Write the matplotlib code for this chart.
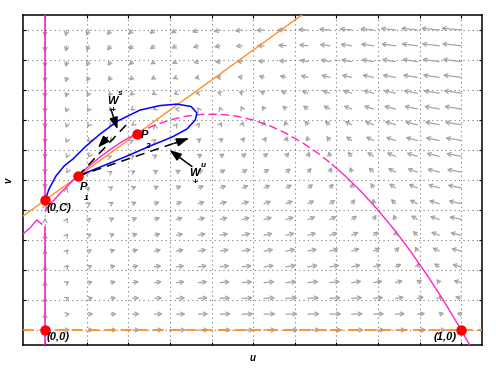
import matplotlib
matplotlib.use('Agg')
import matplotlib.pyplot as plt
import numpy as np

C = 0.433

# u-nullcline (magenta hump)
hump_u = [0.0, 0.02, 0.04, 0.06, 0.079, 0.10, 0.13, 0.16, 0.19, 0.22, 0.26, 0.30, 0.34, 0.38,
          0.42, 0.46, 0.50, 0.54, 0.58, 0.62, 0.66, 0.69, 0.72, 0.76, 0.80, 0.84, 0.88, 0.92,
          0.96, 1.0, 1.02]
hump_v = [0.40, 0.431, 0.461, 0.489, 0.514, 0.540, 0.574, 0.605, 0.632, 0.655, 0.681, 0.700,
          0.713, 0.719, 0.719, 0.713, 0.700, 0.681, 0.655, 0.623, 0.585, 0.552, 0.515, 0.461,
          0.400, 0.333, 0.259, 0.179, 0.093, 0.0, -0.049]
# small piece of the same curve left of u=0
frag_u = [-0.053, -0.035, -0.02, -0.008]
frag_v = [0.32, 0.342, 0.367, 0.353]

# blue orbit through (0,C) looping back into P1
orbit_u = [0.0, 0.0096, 0.026, 0.046, 0.067, 0.096, 0.132, 0.175, 0.228, 0.276, 0.317, 0.351,
           0.365, 0.361, 0.341, 0.305, 0.252, 0.192, 0.132, 0.079]
orbit_v = [0.433, 0.47, 0.513, 0.547, 0.57, 0.61, 0.653, 0.697, 0.733, 0.748, 0.753, 0.745,
           0.723, 0.70, 0.67, 0.643, 0.613, 0.577, 0.543, 0.513]

# equilibria
eq_u = [0.0, 0.079, 0.22, 0.0, 1.0]
eq_v = [C, 0.513, 0.653, 0.0, 0.0]

# local manifolds of P1 (dashed)
ws_u = [0.079, 0.204]
ws_v = [0.513, 0.697]
wu_u = [0.079, 0.345]
wu_v = [0.513, 0.639]

# direction field of the model
qu = np.linspace(0, 1, 20)
qv = np.linspace(0, 1, 20)


def field(u, v):
    du = u * (2 * (1 - u) * (u + 0.2) - v)
    dv = 0.3 * v * (u + C - v)
    return du, dv


fig = plt.figure(figsize=(4.96, 3.78), dpi=100)
ax = fig.add_axes([23 / 496, 1 - 345 / 378, 459 / 496, 330 / 378])
ax.set_xlim(-0.053, 1.05)
ax.set_ylim(-0.05, 1.05)

ticks = np.round(np.arange(0, 1.01, 0.1), 2)
ax.set_xticks(ticks)
ax.set_yticks(ticks)
ax.tick_params(direction='in', length=2.5, width=0.8, top=True, right=True,
               labelbottom=False, labelleft=False)
for s in ax.spines.values():
    s.set_linewidth(1.1)
ax.grid(True, color='#777777', linestyle=(0, (1, 3)), linewidth=0.8)
ax.set_axisbelow(True)

# vector field arrows
sx, sy = 416.0, 300.0
for u in qu:
    for v in qv:
        du, dv = field(u, v)
        pu, pv = du * sx, dv * sy
        m = np.hypot(du, dv * sy / sx)
        if m < 1e-6:
            continue
        L = 20 * np.sqrt(m)
        n = np.hypot(pu, pv)
        hu = u + pu / n * L / sx
        hv = v + pv / n * L / sy
        ax.annotate('', xy=(hu, hv), xytext=(u, v),
                    arrowprops=dict(arrowstyle='->,head_length=0.25,head_width=0.14',
                                    color='#a4a4a4', lw=0.9, shrinkA=0, shrinkB=0),
                    zorder=1)

mag = '#ff22cc'
org = '#ff9020'
uu = np.array([-0.1, 1.1])
ax.plot(uu, uu + C, color=org, lw=1.0, zorder=3)
ax.axhline(0, color=org, lw=1.3, ls=(0, (6, 3)), zorder=3)

ax.plot([0, 0], [0.45, 1.06], color=mag, lw=1.2, zorder=3)
ax.plot([0, 0], [-0.06, 0.345], color=mag, lw=1.2, zorder=3)
ax.plot(frag_u, frag_v, color=mag, lw=1.0, zorder=3)
hu_ = np.array(hump_u)
hv_ = np.array(hump_v)
a = hu_ <= 0.22
b = (hu_ >= 0.22) & (hu_ <= 0.69)
c = hu_ >= 0.69
ax.plot(hu_[a], hv_[a], color=mag, lw=1.0, zorder=3)
ax.plot(hu_[b], hv_[b], color=mag, lw=1.0, ls=(0, (6, 3)), zorder=3)
ax.plot(hu_[c], hv_[c], color=mag, lw=1.0, zorder=3)

ax.plot(orbit_u, orbit_v, color='#0000ff', lw=1.1, zorder=4)

ax.plot(ws_u, ws_v, color='black', lw=1.1, ls=(0, (6, 4)), zorder=4)
ax.plot(wu_u, wu_v, color='black', lw=1.1, ls=(0, (6, 4)), zorder=4)
hd = dict(arrowstyle='-|>,head_length=0.7,head_width=0.25', color='black',
          lw=1.1, shrinkA=0, shrinkB=0)
ax.annotate('', xy=(0.127, 0.608), xytext=(0.15, 0.642), arrowprops=hd, zorder=5)
ax.annotate('', xy=(0.345, 0.639), xytext=(0.31, 0.622), arrowprops=hd, zorder=5)
# pointers from the labels
ax.annotate('', xy=(0.174, 0.669), xytext=(0.158, 0.737), arrowprops=hd, zorder=5)
ax.annotate('', xy=(0.299, 0.60), xytext=(0.353, 0.545), arrowprops=hd, zorder=5)

ax.plot(eq_u, eq_v, 'o', color='#ff0000', ms=6.5, zorder=6, clip_on=False)

fam = 'Liberation Sans'
kw = dict(family=fam, weight='bold', style='italic', zorder=7)
ax.text(0.004, 0.407, '(0,C)', fontsize=8, ha='left', va='center', **kw)
ax.text(0.004, -0.023, '(0,0)', fontsize=8, ha='left', va='center', **kw)
ax.text(0.99, -0.023, '(1,0)', fontsize=8, ha='right', va='center', **kw)
ax.text(0.0925, 0.477, 'P', fontsize=8, ha='center', va='center', **kw)
ax.text(0.0986, 0.449, '1', fontsize=6, ha='center', va='top', **kw)
ax.text(0.238, 0.65, 'P', fontsize=8, ha='center', va='center', **kw)
ax.text(0.246, 0.622, '2', fontsize=6, ha='center', va='top', **kw)
ax.text(0.162, 0.762, 'W', fontsize=8, ha='center', va='center', **kw)
ax.text(0.162, 0.744, '+', fontsize=6, ha='center', va='top', **kw)
ax.text(0.175, 0.776, 's', fontsize=6, ha='left', va='bottom', **kw)
ax.text(0.36, 0.522, 'W', fontsize=8, ha='center', va='center', **kw)
ax.text(0.36, 0.504, '+', fontsize=6, ha='center', va='top', **kw)
ax.text(0.373, 0.536, 'u', fontsize=6, ha='left', va='bottom', **kw)

fig.text(253 / 496, 1 - 358 / 378, 'u', fontsize=7, ha='center', va='center',
         family=fam, weight='bold', style='italic')
fig.text(8 / 496, 1 - 180 / 378, 'v', fontsize=7, ha='center', va='center', rotation=90,
         family=fam, weight='bold', style='italic')

fig.savefig('out.png', dpi=100)
